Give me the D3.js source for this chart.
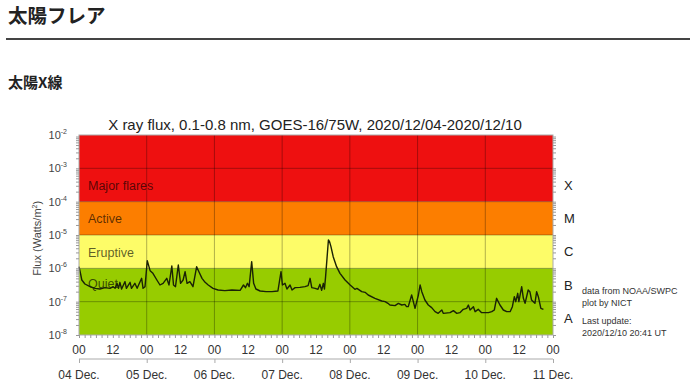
<!DOCTYPE html>
<html>
<head>
<meta charset="utf-8">
<script src="https://cdn.jsdelivr.net/npm/d3@7"></script>
<style>
  body { margin: 0; background: #fff; }
  svg { display: block; font-family: "Liberation Sans", Arial, sans-serif; }
</style>
</head>
<body>
<div id="chart"></div>
<script>
// hours since 2020-12-04 00 UT, and log10 of the flux
var hours = [0, 0.4, 1.0, 2.1, 3.9, 5.7, 7.4, 9.2, 11, 12.1, 12.8, 13.5, 14, 14.5, 15.1, 16.3, 16.8, 18.1, 18.6, 19.8,
  20.6, 22.2, 22.7, 23.4, 24.2, 25.2, 26.2, 27.6, 28.7, 29.8, 31.1, 31.9, 32.9, 33.5, 34.2, 35.2, 36, 36.9, 37.6, 38.3,
  39.3, 40.4, 41.7, 42.5, 43.6, 44.7, 45.8, 47.5, 49.3, 51.7, 54.2, 57.1, 58.3, 59, 59.7, 60.3, 61.2, 61.9, 62.7, 64.2,
  66.3, 68.4, 70.5, 71.6, 72.1, 73, 73.7, 74.8, 75.5, 76.6, 78.3, 80.1, 81.2, 81.9, 82.5, 83.7, 84.7, 85.4, 86, 86.6,
  87, 87.4, 87.9, 88.4, 88.8, 89.3, 90.1, 91.3, 92.5, 94.3, 96.1, 97.8, 98.5, 100.2, 101.4, 102.5, 104.9, 107.3, 108.5, 109.5,
  110.2, 112, 113.2, 114.4, 115.5, 116.1, 116.7, 117.9, 118.5, 119.1, 120.3, 120.9, 121.5, 122.6, 123.8, 125, 126.2, 127.3, 128.6, 129.1,
  131.5, 132.7, 133.9, 135, 136.2, 137.4, 138, 138.6, 139.8, 140.4, 141.5, 142.7, 145.1, 146.3, 147.2, 148, 149.2, 150.4, 151.6, 152.8,
  153.6, 154.3, 154.8, 155.5, 155.9, 156.9, 157.5, 158.1, 159.2, 159.8, 160.4, 161.6, 162.2, 162.8, 163.7, 164.6];
var logFlux = [-5.95, -6.1, -6.35, -6.47, -6.55, -6.6, -6.62, -6.58, -6.6, -6.55, -6.6, -6.45, -6.6, -6.42, -6.62, -6.4, -6.6, -6.42, -6.6, -6.45,
  -6.6, -6.3, -6.6, -6.55, -5.77, -6.07, -6.15, -6.35, -6.5, -6.45, -6.3, -6.5, -5.93, -6.5, -6.55, -5.9, -6.45, -6.35, -6.1, -6.45,
  -6.4, -6.55, -5.95, -6.1, -6.3, -6.42, -6.5, -6.6, -6.65, -6.67, -6.65, -6.66, -6.5, -6.58, -6.45, -6.55, -5.8, -6.45, -6.62, -6.68,
  -6.7, -6.7, -6.68, -6.1, -6.5, -6.45, -6.62, -6.5, -6.65, -6.58, -6.57, -6.55, -6.52, -6.3, -6.58, -6.6, -6.63, -6.48, -6.66, -6.45,
  -6.62, -6.25, -5.7, -5.15, -5.2, -5.35, -5.65, -5.95, -6.15, -6.35, -6.5, -6.63, -6.6, -6.7, -6.72, -6.8, -6.9, -6.98, -7.0, -7.05,
  -7.1, -7.12, -7.05, -7.1, -7.08, -7.15, -7.15, -6.8, -7.0, -7.2, -6.8, -6.5, -6.7, -6.95, -7.1, -7.18, -7.3, -7.35, -7.25, -7.35,
  -7.33, -7.27, -7.35, -7.33, -7.23, -7.2, -7.1, -7.25, -7.15, -7.3, -7.23, -7.33, -7.33, -7.3, -7.25, -6.9, -7.1, -7.25, -7.3, -7.3,
  -7.15, -6.85, -7.0, -6.75, -7.0, -6.55, -6.9, -7.05, -6.65, -6.7, -6.95, -7.05, -6.7, -6.85, -7.2, -7.23];

var dayLabels = ['04 Dec.', '05 Dec.', '06 Dec.', '07 Dec.', '08 Dec.', '09 Dec.', '10 Dec.', '11 Dec.'];
var yExponents = [-2, -3, -4, -5, -6, -7, -8];

// activity bands: lower and upper flux, colour, label
var bandLow = [1e-4, 1e-5, 1e-6, 1e-8];
var bandHigh = [1e-2, 1e-4, 1e-5, 1e-6];
var bandColors = ['#ee1010', '#fc7e00', '#fdfc68', '#97cc00'];
var bandNames = ['Major flares', 'Active', 'Eruptive', 'Quiet'];
var bandNameAt = [3e-4, 3e-5, 3e-6, 3.5e-7];

var classLetters = ['X', 'M', 'C', 'B', 'A'];
var classAt = [3.16e-4, 3.16e-5, 3.16e-6, 3.16e-7, 3.16e-8];

var data = hours.map(function(h, i) {
  return {h: h, f: Math.pow(10, logFlux[i])};
});

var W = 690, H = 388;
var margin = {top: 135, left: 79, right: 137, bottom: 53};

var svg = d3.select('#chart').append('svg')
  .attr('width', W)
  .attr('height', H);

// page headings
svg.append('text')
  .attr('x', 8).attr('y', 23)
  .style('font-family', '"Noto Sans CJK JP", sans-serif')
  .style('font-size', '19.5px').style('font-weight', 'bold')
  .attr('fill', '#222')
  .text('太陽フレア');

svg.append('line')
  .attr('x1', 6).attr('x2', W).attr('y1', 39).attr('y2', 39)
  .attr('stroke', '#444').attr('stroke-width', 2);

svg.append('text')
  .attr('x', 8).attr('y', 88)
  .style('font-family', '"Noto Sans CJK JP", sans-serif')
  .style('font-size', '15px').style('font-weight', 'bold')
  .attr('fill', '#222')
  .text('太陽X線');

var x = d3.scaleLinear()
  .domain([0, 168])
  .range([margin.left, W - margin.right]);

var y = d3.scaleLog()
  .domain([1e-8, 1e-2])
  .range([H - margin.bottom, margin.top]);

var plot = svg.append('g');

plot.selectAll('rect.band').data(bandColors)
  .enter().append('rect')
    .attr('class', 'band')
    .attr('x', x(0))
    .attr('width', x(168) - x(0))
    .attr('y', function(d, i) { return y(bandHigh[i]); })
    .attr('height', function(d, i) { return y(bandLow[i]) - y(bandHigh[i]); })
    .attr('fill', function(d) { return d; });

// grid
plot.selectAll('line.hgrid').data(yExponents.slice(1, -1))
  .enter().append('line')
    .attr('x1', x(0)).attr('x2', x(168))
    .attr('y1', function(d) { return y(Math.pow(10, d)); })
    .attr('y2', function(d) { return y(Math.pow(10, d)); })
    .attr('stroke', 'rgba(0,0,0,0.3)');

plot.selectAll('line.vgrid').data(d3.range(24, 168, 24))
  .enter().append('line')
    .attr('x1', function(d) { return x(d); })
    .attr('x2', function(d) { return x(d); })
    .attr('y1', y(1e-2)).attr('y2', y(1e-8))
    .attr('stroke', 'rgba(0,0,0,0.3)');

// band names
plot.selectAll('text.band').data(bandNames)
  .enter().append('text')
    .attr('x', 88)
    .attr('y', function(d, i) { return y(bandNameAt[i]); })
    .attr('dy', '0.35em')
    .style('font-size', '12.5px')
    .attr('fill', 'rgba(0,0,0,0.65)')
    .text(function(d) { return d; });

// flux line
var line = d3.line()
  .x(function(d) { return x(d.h); })
  .y(function(d) { return y(d.f); });

plot.append('path')
  .datum(data)
  .attr('d', line)
  .attr('fill', 'none')
  .attr('stroke', '#1a2205')
  .attr('stroke-width', 1.4)
  .attr('stroke-linejoin', 'round');

// frame
svg.append('rect')
  .attr('x', x(0)).attr('y', y(1e-2))
  .attr('width', x(168) - x(0))
  .attr('height', y(1e-8) - y(1e-2))
  .attr('fill', 'none')
  .attr('stroke', '#aaa');

// minor log ticks on the left and right edges
var minor = [];
yExponents.slice(1).forEach(function(e) {
  for (var k = 1; k < 10; k++) minor.push(k * Math.pow(10, e));
});
var yTickL = d3.axisLeft(y).tickValues(minor).tickSize(3).tickFormat('');
var yTickR = d3.axisRight(y).tickValues(minor).tickSize(3).tickFormat('');
svg.append('g').attr('transform', 'translate(' + x(0) + ',0)').call(yTickL);
svg.append('g').attr('transform', 'translate(' + x(168) + ',0)').call(yTickR);

// bottom minor ticks every 2 hours
var xTickB = d3.axisBottom(x).tickValues(d3.range(0, 169, 2)).tickSize(3).tickFormat('');
svg.append('g').attr('transform', 'translate(0,' + y(1e-8) + ')').call(xTickB);
svg.selectAll('.domain').remove();
svg.selectAll('.tick line').attr('stroke', '#999');

// y tick labels 10^n
var yl = svg.selectAll('text.ylab').data(yExponents)
  .enter().append('text')
    .attr('class', 'ylab')
    .attr('x', 67)
    .attr('y', function(d) { return y(Math.pow(10, d)) + 4; })
    .attr('text-anchor', 'end')
    .style('font-size', '11px')
    .attr('fill', '#444');
yl.append('tspan').text('10');
yl.append('tspan').attr('dy', -5).style('font-size', '7px').text(function(d) { return d; });

svg.append('text')
  .attr('transform', 'translate(41,' + y(Math.pow(10, -5.1)) + ') rotate(-90)')
  .attr('text-anchor', 'middle')
  .style('font-size', '11px')
  .attr('fill', '#444')
  .html('Flux (Watts/m<tspan dy="-4" font-size="7px">2</tspan><tspan dy="4">)</tspan>');

// title
svg.append('text')
  .attr('x', (x(0) + x(168)) / 2 - 1)
  .attr('y', 130)
  .attr('text-anchor', 'middle')
  .style('font-size', '15px')
  .attr('fill', '#222')
  .text('X ray flux, 0.1-0.8 nm, GOES-16/75W, 2020/12/04-2020/12/10');

// hour labels
svg.selectAll('text.hr').data(d3.range(0, 169, 12))
  .enter().append('text')
    .attr('x', function(d) { return x(d); })
    .attr('y', 354)
    .attr('text-anchor', 'middle')
    .style('font-size', '12px')
    .attr('fill', '#333')
    .text(function(d) { return d % 24 === 0 ? '00' : '12'; });

// day axis
var dayAxis = d3.axisBottom(x)
  .tickValues(d3.range(0, 169, 24))
  .tickSize(4)
  .tickFormat('');
var dg = svg.append('g').attr('transform', 'translate(0,359)').call(dayAxis);
dg.select('.domain').attr('stroke', '#aaa').attr('d', 'M' + x(0) + ',0H' + x(168));
dg.selectAll('.tick line').attr('stroke', '#aaa');

svg.selectAll('text.day').data(dayLabels)
  .enter().append('text')
    .attr('x', function(d, i) { return x(i * 24); })
    .attr('y', 379)
    .attr('text-anchor', 'middle')
    .style('font-size', '12px')
    .attr('fill', '#333')
    .text(function(d) { return d; });

// class letters on the right
svg.selectAll('text.cls').data(classLetters)
  .enter().append('text')
    .attr('x', x(168) + 11)
    .attr('y', function(d, i) { return y(classAt[i]); })
    .attr('dy', '0.35em')
    .style('font-size', '13px')
    .attr('fill', '#222')
    .text(function(d) { return d; });

// credits
var notes = ['data from NOAA/SWPC', 'plot by NICT', 'Last update:', '2020/12/10 20:41 UT'];
var noteY = [294, 306, 324, 336];
svg.selectAll('text.note').data(notes)
  .enter().append('text')
    .attr('x', 582)
    .attr('y', function(d, i) { return noteY[i]; })
    .style('font-size', '9px')
    .attr('fill', '#333')
    .text(function(d) { return d; });
</script>
</body>
</html>
